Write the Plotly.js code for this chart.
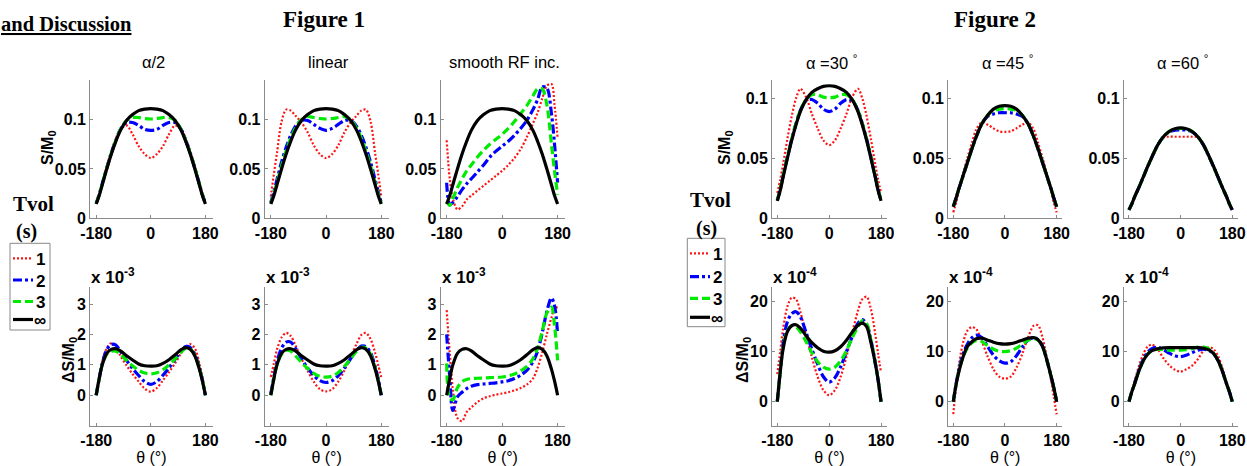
<!DOCTYPE html>
<html>
<head>
<meta charset="utf-8">
<script src="https://cdn.plot.ly/plotly-3.0.1.min.js"></script>
<style>html,body{margin:0;padding:0;background:#fff;}#chart{width:1247px;height:466px;}</style>
</head>
<body>
<div id="chart"></div>
<script>
// ---------- DATA ----------
const theta = [-180,-170,-160,-145,-130,-115,-100,-80,-60,-40,-20,0,20,40,60,80,100,115,130,145,160,170,180];
const seriesNames = ['1','2','3','\u221e'];
const xTickVals = [-180, 0, 180];
const xTickText = ['-180', '0', '180'];
const sTickVals = [0, 0.05, 0.1];
const sTickText = ['0', '0.05', '0.1'];
const d1TickVals = [0, 1, 2, 3];
const d1TickText = ['0', '1', '2', '3'];
const d2TickVals = [0, 10, 20];
const d2TickText = ['0', '10', '20'];
const fig1Titles = ['\u03b1/2', 'linear', 'smooth RF inc.'];
const fig2Titles = ['\u03b1 =30 <sup>\u00b0</sup>', '\u03b1 =45 <sup>\u00b0</sup>', '\u03b1 =60 <sup>\u00b0</sup>'];

// Figure 1, S/M0
const f1_half_S_1 = [0.016,0.025,0.036,0.053,0.068,0.081,0.090,0.094,0.085,0.073,0.065,0.061,0.065,0.073,0.085,0.094,0.090,0.081,0.068,0.053,0.036,0.025,0.016];
const f1_half_S_2 = [0.015,0.024,0.035,0.051,0.066,0.079,0.090,0.097,0.097,0.094,0.090,0.089,0.090,0.094,0.097,0.097,0.090,0.079,0.066,0.051,0.035,0.024,0.015];
const f1_half_S_3 = [0.015,0.024,0.035,0.051,0.066,0.079,0.090,0.099,0.102,0.102,0.101,0.1005,0.101,0.102,0.102,0.099,0.090,0.079,0.066,0.051,0.035,0.024,0.015];
const f1_S_inf    = [0.0145,0.023,0.034,0.050,0.065,0.078,0.089,0.099,0.105,0.109,0.1105,0.111,0.1105,0.109,0.105,0.099,0.089,0.078,0.065,0.050,0.034,0.023,0.0145];
const f1_lin_S_1 = [0.022,0.045,0.066,0.098,0.110,0.109,0.104,0.097,0.087,0.074,0.065,0.061,0.065,0.074,0.087,0.097,0.104,0.109,0.110,0.098,0.066,0.045,0.022];
const f1_lin_S_2 = [0.016,0.027,0.039,0.057,0.072,0.084,0.093,0.099,0.099,0.095,0.091,0.089,0.091,0.095,0.099,0.099,0.093,0.084,0.072,0.057,0.039,0.027,0.016];
const f1_lin_S_3 = [0.015,0.025,0.036,0.053,0.068,0.081,0.091,0.100,0.103,0.102,0.101,0.1005,0.101,0.102,0.103,0.100,0.091,0.081,0.068,0.053,0.036,0.025,0.015];
const f1_rf_S_1 = [0.079,0.040,0.020,0.009,0.012,0.019,0.023,0.028,0.033,0.038,0.043,0.048,0.054,0.061,0.070,0.082,0.096,0.107,0.121,0.134,0.136,0.115,0.081];
const f1_rf_S_2 = [0.036,0.014,0.016,0.022,0.029,0.035,0.040,0.047,0.054,0.062,0.068,0.073,0.078,0.084,0.091,0.099,0.110,0.120,0.133,0.132,0.106,0.075,0.036];
const f1_rf_S_3 = [0.017,0.013,0.020,0.031,0.040,0.048,0.054,0.062,0.069,0.075,0.080,0.085,0.091,0.098,0.106,0.114,0.124,0.131,0.131,0.115,0.075,0.048,0.024];

// Figure 1, dS/M0 (x 1e-3)
const f1_half_D_1 = [0.05,0.6,1.12,1.55,1.72,1.62,1.3,0.98,0.7,0.45,0.22,0.12,0.24,0.49,0.76,1.05,1.38,1.58,1.68,1.55,1.05,0.6,0.05];
const f1_half_D_2 = [0,0.55,1.05,1.5,1.67,1.65,1.45,1.15,0.88,0.65,0.45,0.36,0.45,0.66,0.9,1.18,1.45,1.6,1.57,1.35,0.9,0.5,0];
const f1_half_D_3 = [0,0.55,1.0,1.35,1.45,1.45,1.35,1.15,0.97,0.82,0.73,0.7,0.74,0.84,1.0,1.2,1.42,1.55,1.52,1.32,0.88,0.5,0];
const f1_D_inf    = [0,0.55,1.0,1.38,1.51,1.53,1.46,1.3,1.16,1.03,0.97,0.96,0.97,1.05,1.17,1.33,1.5,1.57,1.51,1.3,0.86,0.47,0];
const f1_lin_D_1 = [0.6,1.05,1.5,1.9,2.05,1.95,1.65,1.2,0.8,0.45,0.2,0.13,0.2,0.45,0.82,1.25,1.7,1.98,2.05,1.85,1.4,1.0,0.6];
const f1_lin_D_2 = [0.05,0.6,1.1,1.55,1.75,1.75,1.55,1.2,0.9,0.65,0.48,0.42,0.48,0.65,0.9,1.2,1.48,1.62,1.6,1.4,0.95,0.55,0];
const f1_lin_D_3 = [0,0.55,1.0,1.35,1.48,1.45,1.3,1.08,0.88,0.72,0.62,0.6,0.63,0.75,0.95,1.2,1.45,1.58,1.55,1.35,0.9,0.5,0];
const f1_rf_D_1 = [2.8,1.4,0.2,-0.75,-0.85,-0.55,-0.4,-0.22,-0.1,-0.03,0.02,0.06,0.1,0.16,0.24,0.35,0.55,0.9,1.4,2.0,2.55,2.85,2.9];
const f1_rf_D_2 = [2.0,0.6,-0.5,-0.05,0.1,0.22,0.3,0.35,0.37,0.39,0.41,0.44,0.48,0.55,0.66,0.82,1.1,1.45,2.05,2.75,3.2,2.95,2.0];
const f1_rf_D_3 = [1.05,-0.1,-0.15,0.25,0.45,0.52,0.55,0.56,0.57,0.58,0.59,0.6,0.64,0.7,0.8,0.95,1.2,1.55,2.1,2.7,2.9,2.3,1.15];

// Figure 2, S/M0
const f2_30_S_1 = [0.021,0.032,0.045,0.066,0.085,0.100,0.108,0.101,0.087,0.075,0.065,0.061,0.065,0.075,0.087,0.101,0.108,0.100,0.085,0.066,0.045,0.032,0.021];
const f2_30_S_2 = [0.015,0.024,0.035,0.051,0.066,0.079,0.090,0.098,0.099,0.096,0.091,0.089,0.091,0.096,0.099,0.098,0.090,0.079,0.066,0.051,0.035,0.024,0.015];
const f2_30_S_3 = [0.015,0.024,0.035,0.051,0.066,0.079,0.090,0.099,0.103,0.103,0.101,0.1005,0.101,0.103,0.103,0.099,0.090,0.079,0.066,0.051,0.035,0.024,0.015];
const f2_30_S_inf = [0.0145,0.023,0.034,0.050,0.065,0.078,0.089,0.099,0.105,0.108,0.110,0.1105,0.110,0.108,0.105,0.099,0.089,0.078,0.065,0.050,0.034,0.023,0.0145];
const f2_45_S_1 = [0.005,0.013,0.024,0.038,0.051,0.063,0.074,0.080,0.078,0.075,0.0725,0.072,0.0725,0.075,0.078,0.080,0.074,0.063,0.051,0.038,0.024,0.013,0.005];
const f2_45_S_2 = [0.0097,0.017,0.025,0.036,0.047,0.058,0.068,0.079,0.085,0.087,0.088,0.088,0.088,0.087,0.085,0.079,0.068,0.058,0.047,0.036,0.025,0.017,0.0097];
const f2_45_S_3 = [0.0097,0.017,0.025,0.036,0.047,0.058,0.068,0.079,0.086,0.090,0.091,0.0915,0.091,0.090,0.086,0.079,0.068,0.058,0.047,0.036,0.025,0.017,0.0097];
const f2_45_S_inf = [0.0097,0.017,0.025,0.036,0.047,0.058,0.068,0.079,0.086,0.091,0.0934,0.094,0.0934,0.091,0.086,0.079,0.068,0.058,0.047,0.036,0.025,0.017,0.0097];
const f2_60_S_1 = [0.007,0.012,0.018,0.026,0.035,0.044,0.052,0.061,0.0675,0.068,0.068,0.068,0.068,0.068,0.0675,0.061,0.052,0.044,0.035,0.026,0.018,0.012,0.007];
const f2_60_S_2 = [0.007,0.012,0.018,0.026,0.0345,0.043,0.051,0.061,0.068,0.072,0.0735,0.0737,0.0735,0.072,0.068,0.061,0.051,0.043,0.0345,0.026,0.018,0.012,0.007];
const f2_60_S_3 = [0.007,0.012,0.018,0.026,0.0345,0.043,0.051,0.061,0.068,0.0724,0.0745,0.075,0.0745,0.0724,0.068,0.061,0.051,0.043,0.0345,0.026,0.018,0.012,0.007];
const f2_60_S_inf = [0.007,0.012,0.018,0.026,0.0345,0.043,0.051,0.061,0.068,0.0724,0.0746,0.0754,0.0746,0.0724,0.068,0.061,0.051,0.043,0.0345,0.026,0.018,0.012,0.007];

// Figure 2, dS/M0 (x 1e-4)
const f2_30_D_1 = [5.5,10,14.5,19,20.8,20.5,18,13.3,8.9,5,2.3,1.3,2.3,5,9,13.8,18.2,20.5,21.0,18.5,13.5,9.5,5.8];
const f2_30_D_2 = [0,6,11.5,16,17.6,18,17,13.8,10.5,7.5,5,3.9,4.8,7,10,13,15.7,16.4,15.5,12.3,7.8,4.3,0];
const f2_30_D_3 = [0,5.8,10.8,14.2,15.2,15,14,12,9.8,8,6.9,6.5,6.9,8.2,10.2,12.8,15,16.2,15.6,12.3,7.7,4.2,0];
const f2_30_D_inf = [0,5.8,10.5,14.0,15.2,15.4,14.7,13.2,11.8,10.8,10.1,9.9,10.2,11.0,12.3,13.9,15.3,15.7,15.0,11.8,7.7,4.3,0];
const f2_45_D_1 = [-2.5,3,7.5,12,14.3,14.9,14.5,12,9,6.5,5,4.6,5,6.8,9.5,12.8,15.2,15.3,13,9,4.5,1,-2.5];
const f2_45_D_2 = [0,3.6,6.5,9.7,11.6,12.8,13.3,12.8,11,9.3,8.2,7.7,8,9.2,10.9,12.3,12.8,12.4,11.2,8.5,5.2,2.8,0];
const f2_45_D_3 = [0,3.4,6.2,9.1,10.8,11.8,12.2,12,11.2,10.5,10.1,10,10.2,10.7,11.5,12.3,12.6,12.3,11.1,8.5,5.2,2.8,0];
const f2_45_D_inf = [0,3.5,6.1,9.1,11.1,12.0,12.6,12.7,12.3,11.9,11.6,11.5,11.6,11.9,12.3,12.7,12.8,12.4,11.2,8.5,5.2,2.8,0];
const f2_60_D_1 = [0,2.3,4.2,7.2,9.5,11.0,11.4,10.5,8.7,7.3,6.4,6.0,6.5,7.2,8.5,10.2,10.9,10.5,9.2,6.8,3.9,2.1,0];
const f2_60_D_2 = [0,2,3.7,6.4,8.5,9.9,10.6,10.9,10.4,9.7,9.2,9.0,9.3,9.8,10.3,10.5,10.2,9.6,8.3,6.2,3.6,2,0];
const f2_60_D_3 = [0,2,3.6,6.2,8.2,9.5,10.2,10.5,10.4,10.3,10.3,10.3,10.4,10.6,10.9,10.9,10.5,9.7,8.3,6.2,3.6,2,0];
const f2_60_D_inf = [0,2,3.6,6.2,8.2,9.5,10.2,10.6,10.75,10.8,10.8,10.8,10.8,10.8,10.8,10.7,10.3,9.6,8.3,6.2,3.6,2,0];

// ---------- LAYOUT / STYLE ----------
const W = 1247, H = 466;
const px = v => v / W;
const py = v => 1 - v / H;

const styles = [
  {color: 'rgb(255,20,20)', dash: '2px,2px', width: 2.2},
  {color: 'rgb(0,0,255)', dash: '9px,3px,3px,3px', width: 3.2},
  {color: 'rgb(0,235,0)', dash: '8px,4px', width: 3.2},
  {color: 'rgb(0,0,0)', dash: 'solid', width: 3.2}
];

const panels = [
  {fig:1, top:true,  xd:[90.1,212.7], series:[f1_half_S_1,f1_half_S_2,f1_half_S_3,f1_S_inf]},
  {fig:1, top:true,  xd:[264.7,388.6], series:[f1_lin_S_1,f1_lin_S_2,f1_lin_S_3,f1_S_inf]},
  {fig:1, top:true,  xd:[440.5,565.0], series:[f1_rf_S_1,f1_rf_S_2,f1_rf_S_3,f1_S_inf]},
  {fig:1, top:false, xd:[90.1,212.7], series:[f1_half_D_1,f1_half_D_2,f1_half_D_3,f1_D_inf]},
  {fig:1, top:false, xd:[264.7,388.6], series:[f1_lin_D_1,f1_lin_D_2,f1_lin_D_3,f1_D_inf]},
  {fig:1, top:false, xd:[440.5,565.0], series:[f1_rf_D_1,f1_rf_D_2,f1_rf_D_3,f1_D_inf]},
  {fig:2, top:true,  xd:[772.1,886.8], series:[f2_30_S_1,f2_30_S_2,f2_30_S_3,f2_30_S_inf]},
  {fig:2, top:true,  xd:[948.1,1062.4], series:[f2_45_S_1,f2_45_S_2,f2_45_S_3,f2_45_S_inf]},
  {fig:2, top:true,  xd:[1123.8,1238.0], series:[f2_60_S_1,f2_60_S_2,f2_60_S_3,f2_60_S_inf]},
  {fig:2, top:false, xd:[772.1,886.8], series:[f2_30_D_1,f2_30_D_2,f2_30_D_3,f2_30_D_inf]},
  {fig:2, top:false, xd:[948.1,1062.4], series:[f2_45_D_1,f2_45_D_2,f2_45_D_3,f2_45_D_inf]},
  {fig:2, top:false, xd:[1123.8,1238.0], series:[f2_60_D_1,f2_60_D_2,f2_60_D_3,f2_60_D_inf]}
];

const axisColor = '#8a8a8a';
const serif = 'Liberation Serif, Times New Roman, serif';
const sans = 'Liberation Sans, Arial, sans-serif';
const tickFont = {family: sans, size: 16, color: '#000', weight: 'bold'};

const traces = [];
const layout = {
  width: W, height: H,
  margin: {l: 0, r: 0, t: 0, b: 0},
  paper_bgcolor: '#fff', plot_bgcolor: 'rgba(0,0,0,0)',
  showlegend: false,
  annotations: [],
  shapes: []
};

panels.forEach((p, i) => {
  const n = i + 1;
  const sfx = n === 1 ? '' : String(n);
  const xr = p.fig === 1 ? [-200, 204] : [-198, 200];
  const yd = p.top ? [80, 218.3] : [286.7, 425.7];
  let yr, tv, tt;
  if (p.top) { yr = p.fig === 1 ? [0, 0.14] : [0, 0.1153]; tv = sTickVals; tt = sTickText; }
  else if (p.fig === 1) { yr = [-1, 3.57]; tv = d1TickVals; tt = d1TickText; }
  else { yr = [-4.8, 23]; tv = d2TickVals; tt = d2TickText; }
  layout['xaxis' + sfx] = {
    domain: [px(p.xd[0]), px(p.xd[1])], range: xr, anchor: 'y' + sfx,
    showline: true, linecolor: axisColor, linewidth: 1, mirror: false,
    showgrid: false, zeroline: false, ticks: 'inside', ticklen: 3, tickcolor: axisColor,
    tickmode: 'array', tickvals: xTickVals, ticktext: xTickText, tickfont: tickFont, fixedrange: true
  };
  if (!p.top) {
    layout['xaxis' + sfx].title = {text: '\u03b8 (\u00b0)', font: {family: sans, size: 16, color: '#000'}, standoff: 1};
  }
  layout['yaxis' + sfx] = {
    domain: [py(yd[1]), py(yd[0])], range: yr, anchor: 'x' + sfx,
    showline: true, linecolor: axisColor, linewidth: 1, mirror: false,
    showgrid: false, zeroline: false, ticks: 'inside', ticklen: 3, tickcolor: axisColor,
    tickmode: 'array', tickvals: tv, ticktext: tt, tickfont: tickFont, fixedrange: true
  };
  p.series.forEach((ys, k) => {
    traces.push({
      type: 'scatter', mode: 'lines', x: theta, y: ys,
      xaxis: 'x' + sfx, yaxis: 'y' + sfx,
      name: seriesNames[k],
      line: {color: styles[k].color, dash: styles[k].dash, width: styles[k].width, shape: 'spline', smoothing: 0.9},
      showlegend: false,
      hoverinfo: 'skip'
    });
  });
  if (p.top) {
    const titles = p.fig === 1 ? fig1Titles : fig2Titles;
    const col = p.fig === 1 ? i : i - 6;
    layout.annotations.push({
      text: titles[col], xref: 'paper', yref: 'paper',
      x: px((p.xd[0] + p.xd[1]) / 2 + 2), y: py(62), xanchor: 'center', yanchor: 'middle',
      showarrow: false, font: {family: sans, size: 16.5, color: '#000'}
    });
  } else {
    layout.annotations.push({
      text: 'x 10<sup>' + (p.fig === 1 ? '-3' : '-4') + '</sup>', xref: 'paper', yref: 'paper',
      x: px(p.xd[0] - 1), y: py(289), xanchor: 'left', yanchor: 'bottom',
      showarrow: false, font: {family: sans, size: 17, color: '#000', weight: 'bold'}
    });
  }
});

const txt = (text, x, y, font, extra) => Object.assign({
  text, xref: 'paper', yref: 'paper', x: px(x), y: py(y), xanchor: 'center', yanchor: 'middle',
  showarrow: false, font
}, extra || {});

// Legend keys (one per figure)
const legends = [
  {box: [10, 243.3, 50, 330], lineX: [13, 33], labelX: 40, rows: [258.3, 280, 301.5, 319.5]},
  {box: [687.3, 238.3, 725, 326.7], lineX: [690, 710], labelX: 717, rows: [253.3, 276.7, 298.3, 317.3]}
];
legends.forEach(L => {
  layout.shapes.push({type: 'rect', xref: 'paper', yref: 'paper',
    x0: px(L.box[0]), x1: px(L.box[2]), y0: py(L.box[3]), y1: py(L.box[1]),
    line: {color: '#888', width: 1}, fillcolor: '#fff', layer: 'above'});
  seriesNames.forEach((nm, k) => {
    layout.shapes.push({type: 'line', xref: 'paper', yref: 'paper',
      x0: px(L.lineX[0]), x1: px(L.lineX[1]), y0: py(L.rows[k]), y1: py(L.rows[k]),
      line: {color: styles[k].color, dash: styles[k].dash, width: styles[k].width}, layer: 'above'});
    layout.annotations.push(txt('<b>' + nm + '</b>', L.labelX, L.rows[k] + 1, {family: sans, size: 17, color: '#000'}));
  });
});

layout.annotations.push(
  txt('<u><b>and Discussion</b></u>', 134, 24, {family: serif, size: 20.5, color: '#000'}, {xanchor: 'right'}),
  txt('<b>Figure 1</b>', 324, 20, {family: serif, size: 23, color: '#000'}),
  txt('<b>Figure 2</b>', 995, 20, {family: serif, size: 23, color: '#000'}),
  txt('<b>Tvol</b>', 33, 204, {family: serif, size: 21, color: '#000'}),
  txt('<b>(s)</b>', 26, 231, {family: serif, size: 20, color: '#000'}),
  txt('<b>Tvol</b>', 710, 200, {family: serif, size: 21, color: '#000'}),
  txt('<b>(s)</b>', 706, 228, {family: serif, size: 20, color: '#000'}),
  txt('<b>S/M<sub>0</sub></b>', 48, 148, {family: sans, size: 16, color: '#000'}, {textangle: -90}),
  txt('<b>\u0394S/M<sub>0</sub></b>', 69, 360, {family: sans, size: 16, color: '#000'}, {textangle: -90}),
  txt('<b>S/M<sub>0</sub></b>', 725, 148, {family: sans, size: 16, color: '#000'}, {textangle: -90}),
  txt('<b>\u0394S/M<sub>0</sub></b>', 743, 360, {family: sans, size: 16, color: '#000'}, {textangle: -90})
);

Plotly.newPlot('chart', traces, layout, {staticPlot: true, displayModeBar: false});
</script>
</body>
</html>
